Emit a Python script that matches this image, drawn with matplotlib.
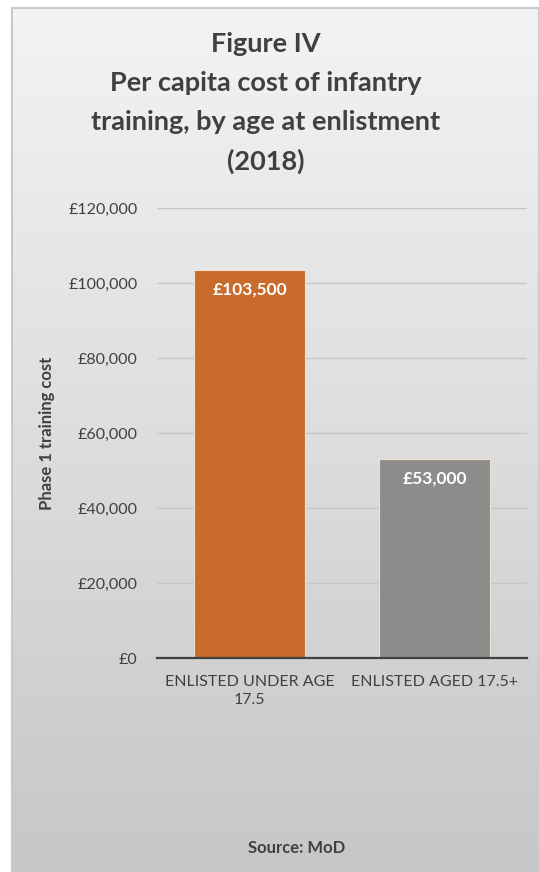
import numpy as np
import matplotlib.pyplot as plt
from matplotlib.patches import Rectangle
from matplotlib.ticker import FuncFormatter

# Data
categories = ['ENLISTED UNDER AGE\n17.5', 'ENLISTED AGED 17.5+']
costs = [103500, 53000]
bar_labels = ['£103,500', '£53,000']
bar_colors = ['#C96B2C', '#8C8C8C']
y_ticks = [0, 20000, 40000, 60000, 80000, 100000, 120000]

plt.rcParams['font.family'] = ['Lato', 'DejaVu Sans']

W, H = 539, 872
fig = plt.figure(figsize=(W / 100, H / 100), dpi=100)
fig.patch.set_facecolor('white')

# gradient background panel with thin border
bg = fig.add_axes([12 / W, 0, 1 - 12 / W, 1 - 8 / H])
grad = np.linspace(0, 1, 256).reshape(-1, 1)
top = np.array([0.955, 0.955, 0.955])
bot = np.array([0.78, 0.78, 0.78])
img = top + (bot - top) * grad[:, :, None]
bg.imshow(img, aspect='auto', extent=[0, 1, 0, 1], origin='upper')
bg.set_xlim(0, 1)
bg.set_ylim(0, 1)
bg.axis('off')
bg.add_patch(Rectangle((0, 0), 1, 1, transform=bg.transAxes, fill=False,
                       edgecolor='#c8c8c8', linewidth=1.5, clip_on=False))

# title
title_lines = ['Figure IV', 'Per capita cost of infantry',
               'training, by age at enlistment', '(2018)']
for i, line in enumerate(title_lines):
    fig.text(266 / W, 1 - (44 + i * 39) / H, line, ha='center', va='center',
             fontsize=19.5, fontweight='bold', color='#404040')

# plot area
ax = fig.add_axes([157 / W, 1 - 658 / H, (527 - 157) / W, (658 - 208) / H])
ax.patch.set_alpha(0)
x = np.arange(len(categories))
bars = ax.bar(x, costs, width=0.6, color=bar_colors, edgecolor='#f0e0d0',
              linewidth=0.8, zorder=3)
for b, lab in zip(bars, bar_labels):
    ax.text(b.get_x() + b.get_width() / 2, b.get_height() - 5200, lab,
            ha='center', va='center', color='white', fontsize=12.5,
            fontweight='bold', zorder=4)

ax.set_xlim(-0.5, 1.5)
ax.set_ylim(0, 120000)
ax.set_yticks(y_ticks)
ax.yaxis.set_major_formatter(FuncFormatter(lambda v, p: '£{:,.0f}'.format(v)))
ax.grid(axis='y', color='#c6c6c6', linewidth=1, zorder=0)
ax.set_xticks(x)
ax.set_xticklabels(categories, fontsize=11.5, color='#404040', linespacing=1.35)
ax.tick_params(axis='y', length=0, pad=14, labelsize=11.5, labelcolor='#404040')
ax.tick_params(axis='x', length=0, pad=12)
for s in ['top', 'right', 'left']:
    ax.spines[s].set_visible(False)
ax.spines['bottom'].set_color('#404040')
ax.spines['bottom'].set_linewidth(1.6)
ax.spines['bottom'].set_zorder(5)

fig.text(47 / W, 1 - 433 / H, 'Phase 1 training cost', rotation=90,
         ha='center', va='center', fontsize=12, fontweight='bold',
         color='#404040')

fig.text(297 / W, 1 - 848 / H, 'Source: MoD', ha='center', va='center',
         fontsize=12, fontweight='bold', color='#404040')

plt.savefig('out.png', dpi=100)
